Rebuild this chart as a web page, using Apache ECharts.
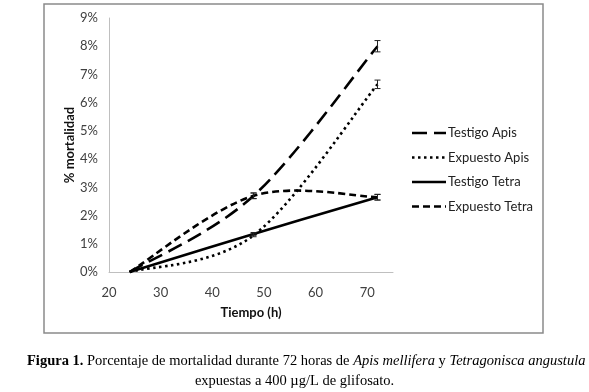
<!DOCTYPE html>
<html><head><meta charset="utf-8">
<script src="https://cdn.jsdelivr.net/npm/echarts@6/dist/echarts.min.js"></script>
<style>html,body{margin:0;padding:0;background:#fff}#c{width:589px;height:392px}</style>
</head><body><div id="c"></div>
<script>
const hours = [24, 48, 72];
const seriesNames = ['Testigo Apis', 'Expuesto Apis', 'Testigo Tetra', 'Expuesto Tetra'];
const testigoApis = [0, 2.7, 8.0];
const expuestoApis = [0, 1.3, 6.65];
const testigoTetra = [0, 1.35, 2.65];
const expuestoTetra = [0, 2.7, 2.65];
const errTestigoApis = [0, 0.1, 0.2];
const errExpuestoApis = [0, 0.05, 0.15];
const errTestigoTetra = [0, 0.05, 0.1];
const errExpuestoTetra = [0, 0.1, 0.1];
const yTicks = [0,1,2,3,4,5,6,7,8,9];

const FONT = 'Lato';
const SERIF = 'Liberation Serif';
const CAP = 14.5;
const dashes = [[15,7], [2.5,3.5], null, [7,4]];
const chart = echarts.init(document.getElementById('c'));

// Excel-style smoothed line (Catmull-Rom Bezier through the points), via api.coord
function curveSeries(name, v, dash){
  return {name, type:'custom', silent:true, z:3,
    data:hours.map((h,i)=>[h, v[i]]),
    renderItem:function(params, api){
      if (params.dataIndex !== 0) return null;
      const P = hours.map((h,i)=>api.coord([h, v[i]]));
      const n = P.length;
      let d = 'M' + P[0][0] + ' ' + P[0][1];
      for (let i = 0; i < n-1; i++){
        const p0 = P[Math.max(i-1,0)], p1 = P[i], p2 = P[i+1], p3 = P[Math.min(i+2,n-1)];
        const c1 = [p1[0] + (p2[0]-p0[0])/6, p1[1] + (p2[1]-p0[1])/6];
        const c2 = [p2[0] - (p3[0]-p1[0])/6, p2[1] - (p3[1]-p1[1])/6];
        d += ' C' + c1[0] + ' ' + c1[1] + ' ' + c2[0] + ' ' + c2[1] + ' ' + p2[0] + ' ' + p2[1];
      }
      return {type:'path', shape:{pathData:d},
        style:{fill:'none', stroke:'#000', lineWidth:2.6, lineDash:dash || null, lineCap:'butt'}};
    }};
}
function errSeries(v, e){
  return {type:'custom', silent:true, z:4, data:hours.map((h,i)=>[h, v[i], e[i]]),
    renderItem:function(params, api){
      const x = api.value(0), y = api.value(1), d = api.value(2);
      if (!d) return null;
      const p1 = api.coord([x, y + d]), p2 = api.coord([x, y - d]);
      const w = 3;
      const st = {stroke:'#222', lineWidth:1};
      return {type:'group', children:[
        {type:'line', shape:{x1:p1[0],y1:p1[1],x2:p2[0],y2:p2[1]}, style:st},
        {type:'line', shape:{x1:p1[0]-w,y1:p1[1],x2:p1[0]+w,y2:p1[1]}, style:st},
        {type:'line', shape:{x1:p2[0]-w,y1:p2[1],x2:p2[0]+w,y2:p2[1]}, style:st}
      ]};
    }};
}
const legendGraphics = [];
seriesNames.forEach((n, i) => {
  const y = 133 + i * 24.5;
  legendGraphics.push({type:'line', shape:{x1:412, y1:y, x2:446, y2:y}, silent:true,
    style:{stroke:'#000', lineWidth:2.6, lineDash:dashes[i] || null}});
  legendGraphics.push({type:'text', x:448, y:y, silent:true,
    style:{text:n, fontFamily:FONT, fontSize:13, fill:'#222', textVerticalAlign:'middle', verticalAlign:'middle'}});
});

chart.setOption({
  animation:false,
  textStyle:{fontFamily:FONT},
  title:[
    {left:22, top:349,
     text:'{b|Figura 1.} Porcentaje de mortalidad durante 72 horas de {i|Apis mellifera} y {i|Tetragonisca angustula}',
     textStyle:{fontFamily:SERIF, fontSize:CAP, fontWeight:'normal', color:'#000',
       rich:{b:{fontFamily:SERIF, fontSize:CAP, fontWeight:'bold', color:'#000'},
             i:{fontFamily:SERIF, fontSize:CAP, fontStyle:'italic', color:'#000'}}}},
    {left:'center', top:369, text:'expuestas a 400 µg/L de glifosato.',
     textStyle:{fontFamily:SERIF, fontSize:CAP, fontWeight:'normal', color:'#000'}}
  ],
  graphic:[{type:'rect', shape:{x:44, y:4, width:499, height:329},
    style:{fill:'none', stroke:'#8a8a8a', lineWidth:1.5}, silent:true}].concat(legendGraphics),
  grid:{left:109, top:18, right:196, bottom:120, containLabel:false},
  xAxis:{type:'value', min:20, max:75, interval:10,
    axisLine:{lineStyle:{color:'#bfbfbf', width:1}}, axisTick:{show:false}, splitLine:{show:false},
    axisLabel:{color:'#404040', fontSize:13, fontFamily:FONT, margin:14,
      formatter:v=> v>70 ? '' : String(v)},
    name:'Tiempo (h)', nameLocation:'middle', nameGap:34,
    nameTextStyle:{fontWeight:'bold', fontSize:13, color:'#111', fontFamily:FONT}},
  yAxis:{type:'value', min:yTicks[0], max:yTicks[yTicks.length-1], interval:1,
    axisLine:{show:true, lineStyle:{color:'#bfbfbf', width:1}}, axisTick:{show:false}, splitLine:{show:false},
    axisLabel:{color:'#404040', fontSize:13, fontFamily:FONT, margin:11, formatter:'{value}%'},
    name:'% mortalidad', nameLocation:'middle', nameGap:33, nameRotate:90,
    nameTextStyle:{fontWeight:'bold', fontSize:13, color:'#111', fontFamily:FONT}},
  series:[
    curveSeries(seriesNames[0], testigoApis, dashes[0]),
    curveSeries(seriesNames[1], expuestoApis, dashes[1]),
    curveSeries(seriesNames[2], testigoTetra, dashes[2]),
    curveSeries(seriesNames[3], expuestoTetra, dashes[3]),
    errSeries(testigoApis, errTestigoApis),
    errSeries(expuestoApis, errExpuestoApis),
    errSeries(testigoTetra, errTestigoTetra),
    errSeries(expuestoTetra, errExpuestoTetra)
  ]
});
</script></body></html>
